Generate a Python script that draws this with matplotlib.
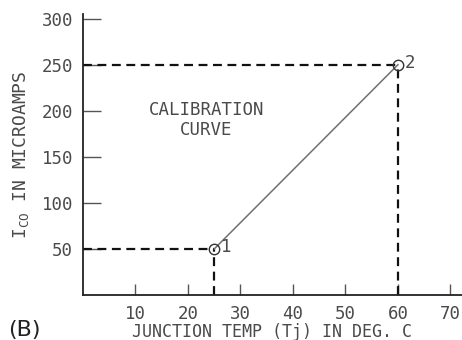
import matplotlib.pyplot as plt

# calibration points (junction temp in deg C, Ico in microamps)
temps = [25, 60]
ico = [50, 250]
point_labels = ['1', '2']
xticks = [10, 20, 30, 40, 50, 60, 70]
yticks = [50, 100, 150, 200, 250, 300]

plt.rcParams['font.family'] = ['DejaVu Sans Mono']
plt.rcParams['mathtext.fontset'] = 'custom'
plt.rcParams['mathtext.rm'] = 'DejaVu Sans Mono'
ink = '#4a4a4a'

fig = plt.figure(figsize=(4.62, 3.40), dpi=100)
ax = fig.add_axes([83/462, 45/340, 379/462, 281/340])

ax.set_xlim(0, 72.2)
ax.set_ylim(0, 305)

# dashed guides from each point to the axes
for t, i in zip(temps, ico):
    ax.plot([0, t], [i, i], color='#111111', lw=1.6, ls=(0, (4, 2.5)))
    ax.plot([t, t], [0, i], color='#111111', lw=1.6, ls=(0, (4, 2.5)))

ax.plot(temps, ico, color='#707070', lw=1.1)
ax.plot(temps, ico, 'o', mfc='none', mec='#333333', ms=7.5, mew=1.0)
for t, i, lab in zip(temps, ico, point_labels):
    ax.text(t + 1.2, i + 2, lab, color=ink, fontsize=12.5, va='center', ha='left')

ax.text(23.5, 190, 'CALIBRATION\nCURVE', color=ink, fontsize=12.5,
        ha='center', va='center', linespacing=1.2)

for s in ['top', 'right']:
    ax.spines[s].set_visible(False)
for s in ['left', 'bottom']:
    ax.spines[s].set_color('#222222')
    ax.spines[s].set_linewidth(1.3)

ax.set_xticks(xticks)
ax.set_yticks(yticks)
ax.tick_params(axis='x', direction='in', length=8, width=1, colors='#555555',
               labelcolor=ink, labelsize=12.5, pad=7)
ax.tick_params(axis='y', direction='in', length=13, width=1, colors='#555555',
               labelcolor=ink, labelsize=12.5, pad=7)

ax.set_xlabel('JUNCTION TEMP (Tj) IN DEG. C', color=ink, fontsize=12, labelpad=0)
ax.set_ylabel(r'I$_{\mathregular{CO}}$ IN MICROAMPS', color=ink, fontsize=13, labelpad=8)

fig.text(8/462, 1 - 330/340, '(B)', color='#222222', fontsize=16, va='center', ha='left',
         family='DejaVu Sans')

fig.savefig('out.png', dpi=100)
